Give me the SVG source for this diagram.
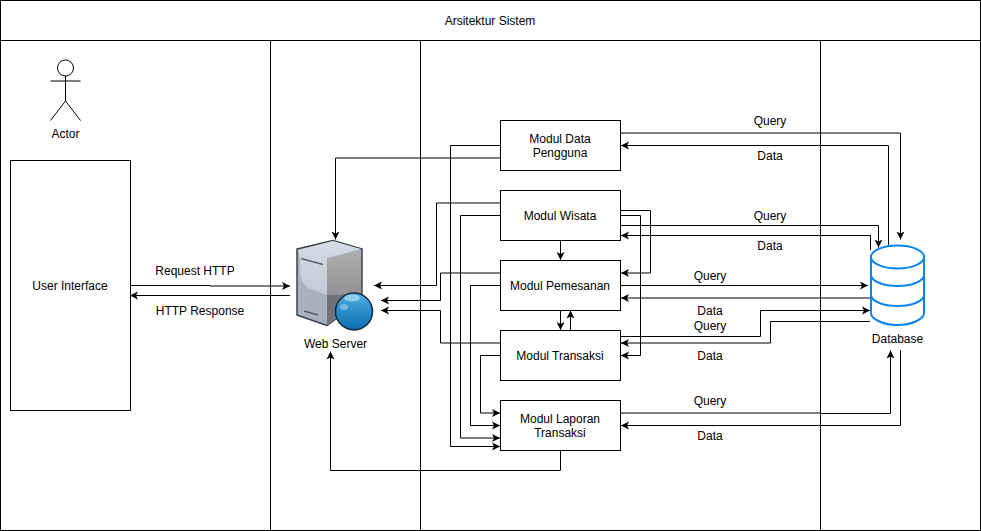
<svg xmlns="http://www.w3.org/2000/svg" width="981" height="531" viewBox="0 0 981 531">
<style>
text{font-family:"Liberation Sans",Arial,Helvetica,sans-serif;font-size:12px;fill:#000;text-anchor:middle}
.box{fill:#fff;stroke:#000;stroke-width:1}
.lane{fill:none;stroke:#000;stroke-width:1}
.c{fill:none;stroke:#000;stroke-width:1;marker-end:url(#a)}
.n{fill:none;stroke:#000;stroke-width:1}
.db{fill:#fff;stroke:#0a84f0;stroke-width:2}
.dbl{fill:none;stroke:#0a84f0;stroke-width:2}
</style>
<defs>
<marker id="a" markerUnits="userSpaceOnUse" markerWidth="9" markerHeight="9" refX="8" refY="4.5" orient="auto">
<path d="M0 0.500L8 4.500L0 8.500L2 4.500Z" fill="#000"/>
</marker>
<linearGradient id="ball" x1="0" y1="0" x2="0" y2="1"><stop offset="0" stop-color="#4fb0e2"/><stop offset="1" stop-color="#0a6cb0"/></linearGradient>
<linearGradient id="leftf" x1="0" y1="0" x2="0" y2="1"><stop offset="0" stop-color="#d6dbe6"/><stop offset="1" stop-color="#c3c9d6"/></linearGradient>
<linearGradient id="rightf" x1="0" y1="0" x2="0" y2="1"><stop offset="0" stop-color="#adadaf"/><stop offset="1" stop-color="#929294"/></linearGradient>
</defs>
<rect width="981" height="531" fill="#fff"/>
<g id="swimlanes">
<rect class="lane" x="0.5" y="0.5" width="980" height="530"/>
<path class="lane" d="M0 40.5H981M270.5 40.5V531M420.5 40.5V531M820.5 40.5V531"/>
<text x="490" y="25">Arsitektur Sistem</text>
</g>
<g id="actor">
<circle class="n" cx="65.5" cy="68" r="8"/>
<path class="n" d="M65.5 76V101M50.5 81H80.5M65.5 101L50.5 120.500M65.500 101L80.500 120.500"/>
<text x="65.500" y="138">Actor</text>
</g>
<g id="user-interface">
<rect class="box" x="10.500" y="160.500" width="120" height="250"/>
<text x="70" y="290">User Interface</text>
</g>
<g id="web-server">
<path d="M297 249L333 240.500L362 249V300L327 325.500L297 315Z" fill="#a9b1bf" stroke="#3c4048" stroke-width="1.500" stroke-linejoin="round"/>
<path d="M298 250L333 241L361 249L327 258V295L308 288Q300 283 300 268V258Z" fill="url(#leftf)"/>
<path d="M327 259L361 250V294L327 295Z" fill="url(#rightf)"/>
<path d="M327 295L361 294V300L327 324Z" fill="#6f7276"/>
<path d="M301 258.500L323 264.500M304 311L318 315" stroke="#5a5f68" stroke-width="1.500" fill="none"/>
<circle cx="354" cy="311.500" r="18.500" fill="url(#ball)" stroke="#0d2a40" stroke-width="1.500"/>
<ellipse cx="352" cy="298" rx="8" ry="3.500" fill="#a9dcf2" opacity=".75"/>
<ellipse cx="344" cy="307" rx="4" ry="3" fill="#8fc8e6" opacity=".7"/>
<text x="335.500" y="348">Web Server</text>
</g>
<g id="connectors">
<path class="c" d="M130 285.500H210V286H290"/>
<path class="c" d="M290 295.500H130"/>
<path class="c" d="M620 133H900.500V239.500"/>
<path class="c" d="M888.500 245V145.500H621"/>
<path class="c" d="M500 158H335.500V239.500"/>
<path class="c" d="M500 145.500H450.500V446.500H500"/>
<path class="c" d="M500 203H436.500V285.500H374"/>
<path class="c" d="M500 215.500H460.500V438H500"/>
<path class="c" d="M560.500 240V260"/>
<path class="c" d="M620 210.500H650.500V273H621"/>
<path class="c" d="M620 215.500H640.500V355.500H621"/>
<path class="c" d="M620 225.500H878.500V247.500"/>
<path class="c" d="M870.500 250V235.500H621"/>
<path class="c" d="M500 273H440.500V300.500H381"/>
<path class="c" d="M500 285.500H470.500V425.500H500"/>
<path class="c" d="M500 343H440.500V310.500H381"/>
<path class="c" d="M500 355.500H480.500V413H500"/>
<path class="c" d="M560.500 310V330"/>
<path class="c" d="M570.500 330V310.500"/>
<path class="c" d="M620 285.500H868"/>
<path class="c" d="M870 298H621"/>
<path class="c" d="M620 336.500H760.500V310.500H870"/>
<path class="c" d="M870 321.500H770.500V343H621"/>
<path class="c" d="M620 413H820V413.500H890.500V350.500"/>
<path class="c" d="M900.500 350V425.500H621"/>
<path class="c" d="M560.500 450V470.500H330.500V351.500"/>
<text x="770" y="125">Query</text>
<text x="770" y="160">Data</text>
<text x="770" y="220">Query</text>
<text x="770" y="250">Data</text>
<text x="710" y="280">Query</text>
<text x="710" y="315">Data</text>
<text x="710" y="330">Query</text>
<text x="710" y="360">Data</text>
<text x="710" y="405">Query</text>
<text x="710" y="440">Data</text>
<text x="195" y="275">Request HTTP</text>
<text x="200" y="315">HTTP Response</text>
</g>
<g id="modul-data">
<rect class="box" x="500.500" y="120.500" width="120" height="50"/>
<text x="560" y="143">Modul Data</text><text x="560" y="157">Pengguna</text>
</g>
<g id="modul-wisata">
<rect class="box" x="500.500" y="190.500" width="120" height="50"/>
<text x="560" y="220">Modul Wisata</text>
</g>
<g id="modul-pemesanan">
<rect class="box" x="500.500" y="260.500" width="120" height="50"/>
<text x="560" y="290">Modul Pemesanan</text>
</g>
<g id="modul-transaksi">
<rect class="box" x="500.500" y="330.500" width="120" height="50"/>
<text x="560" y="360">Modul Transaksi</text>
</g>
<g id="modul-laporan">
<rect class="box" x="500.500" y="400.500" width="120" height="50"/>
<text x="560" y="423">Modul Laporan</text><text x="560" y="437">Transaksi</text>
</g>
<g id="database">
<path class="db" d="M871 257V313C871 319 883 325 897.500 325C912 325 924 319 924 313V257Z"/>
<ellipse class="db" cx="897.500" cy="257" rx="26.500" ry="11.500"/>
<path class="dbl" d="M871 275C871 281 883 286 897.500 286C912 286 924 281 924 275M871 295C871 301 883 306 897.500 306C912 306 924 301 924 295"/>
<text x="897.500" y="343">Database</text>
</g>
</svg>
